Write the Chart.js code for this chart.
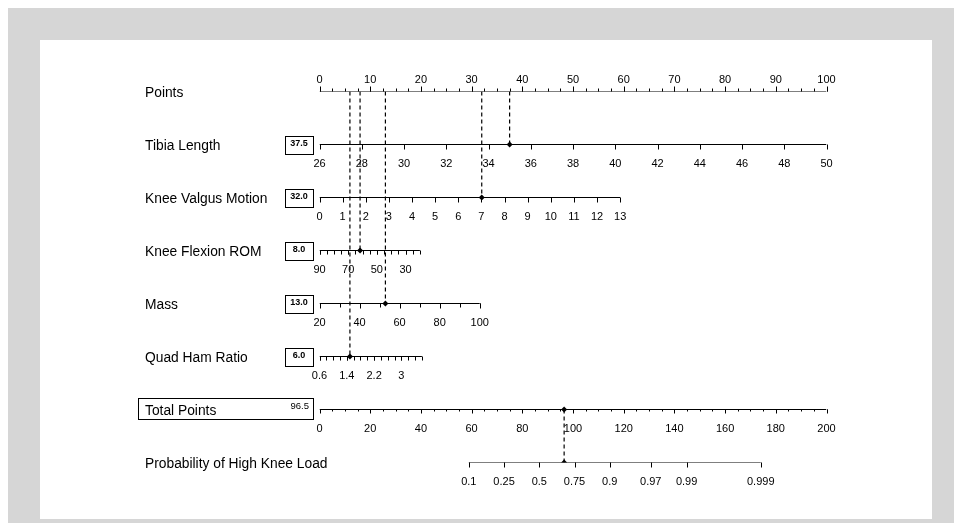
<!DOCTYPE html>
<html>
<head>
<meta charset="utf-8">
<script src="https://cdn.jsdelivr.net/npm/chart.js@4.4.1/dist/chart.umd.min.js"></script>
<style>
  html, body { margin: 0; padding: 0; background: #fff; }
  #frame { position: absolute; left: 8px; top: 8px; width: 946px; height: 515px; background: #d6d6d6; }
  #panel { position: absolute; left: 40px; top: 40px; width: 892px; height: 479px; background: #fff; }
  #wrap { position: absolute; left: 0; top: 0; width: 954px; height: 523px; }
</style>
</head>
<body>
<div id="frame"></div>
<div id="panel"></div>
<div id="wrap"><canvas id="nomo" width="954" height="523"></canvas></div>
<script>
// row names, top to bottom
var rowLabels = ['Points', 'Tibia Length', 'Knee Valgus Motion', 'Knee Flexion ROM', 'Mass',
                 'Quad Ham Ratio', 'Total Points', 'Probability of High Knee Load'];

// tick labels of each scale
var pointsLabels = [0, 10, 20, 30, 40, 50, 60, 70, 80, 90, 100];
var tibiaLabels = [26, 28, 30, 32, 34, 36, 38, 40, 42, 44, 46, 48, 50];
var valgusLabels = [0, 1, 2, 3, 4, 5, 6, 7, 8, 9, 10, 11, 12, 13];
var romLabels = [90, 70, 50, 30];
var massLabels = [20, 40, 60, 80, 100];
var quadLabels = [0.6, 1.4, 2.2, 3];
var totalLabels = [0, 20, 40, 60, 80, 100, 120, 140, 160, 180, 200];
var probLabels = [0.1, 0.25, 0.5, 0.75, 0.9, 0.97, 0.99, 0.999];

// points given to each predictor (shown in the boxes) and the total
var predictorPoints = [37.5, 32.0, 8.0, 13.0, 6.0];
var totalScore = 96.5;

// probability scale: total points = probCenter + probSlope * logit(p)
var probCenter = 86.7, probSlope = 12.65;

// each scale: value at its left end, value at its right end, points at right end
var axes = [
  { row: 0, from: 0,   to: 100, span: 100,  labels: pointsLabels, minor: 2.5, up: true, major: 5, small: 3 },
  { row: 1, from: 26,  to: 50,  span: 100,  labels: tibiaLabels,  minor: 0,   major: 5 },
  { row: 2, from: 0,   to: 13,  span: 59.3, labels: valgusLabels, minor: 0,   major: 5 },
  { row: 3, from: 90,  to: 20,  span: 19.8, labels: romLabels,    minor: 5,   major: 4, small: 4 },
  { row: 4, from: 20,  to: 100, span: 31.6, labels: massLabels,   minor: 10,  major: 5, small: 4 },
  { row: 5, from: 0.6, to: 3.6, span: 20.2, labels: quadLabels,   minor: 0.2, major: 4, small: 4 },
  { row: 6, from: 0,   to: 200, span: 100,  labels: totalLabels,  minor: 5,   major: 4, small: 2 }
];

function toPts(ax, v) { return (v - ax.from) / (ax.to - ax.from) * ax.span; }
function probToPts(p) { return (probCenter + probSlope * Math.log(p / (1 - p))) / 2; }

var datasets = [];
axes.forEach(function (ax) {
  datasets.push({ type: 'line', data: [{ x: 0, y: ax.row }, { x: ax.span, y: ax.row }],
    borderColor: '#000', borderWidth: 1, pointRadius: 0 });
});
datasets.push({ type: 'line', data: [{ x: probToPts(probLabels[0]), y: 7 }, { x: probToPts(probLabels[probLabels.length - 1]), y: 7 }],
  borderColor: '#000', borderWidth: 1, pointRadius: 0 });

// dashed connectors
predictorPoints.forEach(function (p, i) {
  datasets.push({ type: 'line', data: [{ x: p, y: 0 }, { x: p, y: i + 1 }],
    borderColor: '#000', borderWidth: 1.2, borderDash: [4, 3], pointRadius: 0 });
});
datasets.push({ type: 'line', data: [{ x: totalScore / 2, y: 6 }, { x: totalScore / 2, y: 7 }],
  borderColor: '#000', borderWidth: 1.2, borderDash: [4, 3], pointRadius: 0 });

// markers
var marks = predictorPoints.map(function (p, i) { return { x: p, y: i + 1 }; });
marks.push({ x: totalScore / 2, y: 6 }, { x: totalScore / 2, y: 7 });
datasets.push({ type: 'scatter', data: marks, pointStyle: 'rectRot', pointRadius: 3,
  backgroundColor: '#000', borderColor: '#000', borderWidth: 0 });

var tickFont = '11px "Liberation Sans", Arial, sans-serif';

var nomoPlugin = {
  id: 'nomo',
  afterDatasetsDraw: function (chart) {
    var ctx = chart.ctx, xs = chart.scales.x, ys = chart.scales.y;
    ctx.save();
    ctx.strokeStyle = '#000';
    ctx.fillStyle = '#000';
    ctx.lineWidth = 1;

    function tick(px, py, len, up) {
      var x = Math.round(px) + 0.5;
      ctx.beginPath();
      ctx.moveTo(x, py);
      ctx.lineTo(x, up ? py - len : py + len);
      ctx.stroke();
    }

    axes.forEach(function (ax) {
      var py = ys.getPixelForValue(ax.row);
      if (ax.minor) {
        var n = Math.round((ax.to - ax.from) / (ax.minor * Math.sign(ax.to - ax.from)));
        for (var k = 0; k <= n; k++) {
          var v = ax.from + k * ax.minor * Math.sign(ax.to - ax.from);
          tick(xs.getPixelForValue(toPts(ax, v)), py, ax.small, ax.up);
        }
      }
      ctx.font = tickFont;
      ctx.textAlign = 'center';
      ctx.textBaseline = 'middle';
      ax.labels.forEach(function (v) {
        var px = xs.getPixelForValue(toPts(ax, v));
        tick(px, py, ax.major, ax.up);
        ctx.fillText(String(v), px, ax.up ? py - 12 : py + 19);
      });
    });

    // probability scale
    var pyP = ys.getPixelForValue(7);
    probLabels.forEach(function (p) {
      var px = xs.getPixelForValue(probToPts(p));
      tick(px, pyP, 5, false);
      ctx.fillText(String(p), px, pyP + 19);
    });

    // row names
    ctx.font = '13.8px "Liberation Sans", Arial, sans-serif';
    ctx.textAlign = 'left';
    rowLabels.forEach(function (name, i) {
      ctx.fillText(name, 145, ys.getPixelForValue(i) + 2);
    });

    // value boxes
    ctx.font = 'bold 9px "Liberation Sans", Arial, sans-serif';
    ctx.textAlign = 'center';
    predictorPoints.forEach(function (p, i) {
      var py = Math.round(ys.getPixelForValue(i + 1));
      ctx.strokeRect(285.5, py - 8.5, 28, 18);
      ctx.fillText(p.toFixed(1), 299, py - 1);
    });
    var pyT = Math.round(ys.getPixelForValue(6));
    ctx.strokeRect(138.5, pyT - 11.5, 175, 21);
    ctx.font = '9.5px "Liberation Sans", Arial, sans-serif';
    ctx.textAlign = 'right';
    ctx.fillText(totalScore.toFixed(1), 309, pyT - 4);
    ctx.restore();
  }
};

new Chart(document.getElementById('nomo'), {
  data: { datasets: datasets },
  options: {
    responsive: false,
    animation: false,
    layout: { padding: { left: 319.5, right: 127.5, top: 91.5, bottom: 60.5 } },
    scales: {
      x: { type: 'linear', min: 0, max: 100, display: false },
      y: { type: 'linear', min: 0, max: 7, reverse: true, display: false }
    },
    plugins: { legend: { display: false }, tooltip: { enabled: false } }
  },
  plugins: [nomoPlugin]
});
</script>
</body>
</html>
